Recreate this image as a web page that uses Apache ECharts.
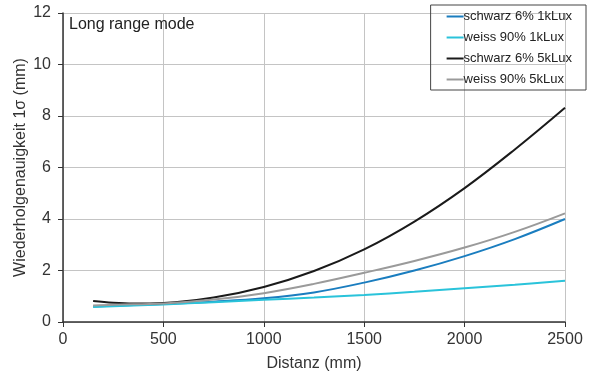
<!DOCTYPE html>
<html><head><meta charset="utf-8">
<script src="https://cdn.jsdelivr.net/npm/echarts@6/dist/echarts.min.js"></script>
<style>html,body{margin:0;padding:0;background:#fff}#c{width:600px;height:390px}</style>
</head><body><div id="c"></div>
<script>
const seriesNames = ['schwarz 6% 1kLux','weiss 90% 1kLux','schwarz 6% 5kLux','weiss 90% 5kLux'];
const schwarz1k = [[150,0.60],[500,0.70],[750,0.79],[1000,0.92],[1250,1.15],[1500,1.53],[1750,2.00],[2000,2.56],[2250,3.22],[2500,4.00]];
const weiss1k = [[150,0.58],[500,0.68],[750,0.77],[1000,0.86],[1250,0.95],[1500,1.05],[1750,1.17],[2000,1.31],[2250,1.45],[2500,1.60]];
const schwarz5k = [[150,0.82],[250,0.75],[350,0.72],[500,0.74],[750,0.95],[1000,1.36],[1250,1.98],[1500,2.82],[1750,3.90],[2000,5.20],[2250,6.70],[2500,8.32]];
const weiss5k = [[150,0.64],[250,0.67],[500,0.72],[750,0.87],[1000,1.12],[1250,1.48],[1500,1.91],[1750,2.37],[2000,2.89],[2250,3.50],[2500,4.22]];
const colors = ['#1a7dbf','#2ac3da','#1a1a1a','#9a9a9a'];
const FONT = 'Liberation Sans, Arial, sans-serif';
const chart = echarts.init(document.getElementById('c'));
const data = [schwarz1k, weiss1k, schwarz5k, weiss5k];
chart.setOption({
  animation:false,
  color: colors,
  textStyle:{fontFamily:FONT},
  grid:{left:63,right:35,top:13,bottom:68},
  title:{text:'Long range mode',left:64,top:12,textStyle:{fontSize:16,fontWeight:'normal',color:'#222',fontFamily:FONT}},
  legend:{
    orient:'vertical',right:14,top:5,
    data:seriesNames,
    icon:'rect',itemWidth:17,itemHeight:2,itemGap:8,
    padding:[5,14,4,16],
    borderColor:'#444',borderWidth:1,
    textStyle:{fontSize:13,color:'#222',fontFamily:FONT,padding:[0,0,0,-5]}
  },
  xAxis:{
    type:'value',min:0,max:2500,interval:500,
    name:'Distanz (mm)',nameLocation:'middle',nameGap:34,nameMoveOverlap:false,
    nameTextStyle:{fontSize:16,color:'#333',fontFamily:FONT},
    axisLine:{lineStyle:{color:'#333',width:1.5}},
    axisTick:{show:true,length:5,lineStyle:{color:'#333'}},
    axisLabel:{fontSize:16,color:'#333',margin:10,fontFamily:FONT,formatter:v=>String(v)},
    splitLine:{lineStyle:{color:'#c4c4c4',width:1}}
  },
  yAxis:{
    type:'value',min:0,max:12,interval:2,
    name:'Wiederholgenauigkeit 1σ (mm)',nameLocation:'middle',nameGap:34,nameMoveOverlap:false,
    nameTextStyle:{fontSize:16,color:'#333',fontFamily:FONT},
    axisLine:{show:true,lineStyle:{color:'#333',width:1.5}},
    axisTick:{show:true,length:5,lineStyle:{color:'#333'}},
    axisLabel:{fontSize:16,color:'#333',margin:12,fontFamily:FONT},
    splitLine:{lineStyle:{color:'#c4c4c4',width:1}}
  },
  series: seriesNames.map((n,i)=>({
    name:n,type:'line',data:data[i],smooth:0.4,showSymbol:false,
    lineStyle:{width:2,color:colors[i]}
  }))
});
</script></body></html>
